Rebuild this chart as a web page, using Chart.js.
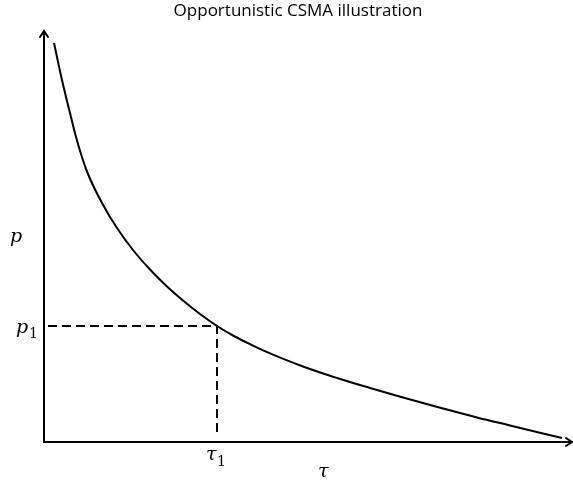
<!DOCTYPE html>
<html>
<head>
<meta charset="utf-8">
<title>Opportunistic CSMA illustration</title>
<script src="https://cdn.jsdelivr.net/npm/chart.js@4.4.1/dist/chart.umd.min.js"></script>
<style>
  html, body { margin: 0; padding: 0; background: #fff; }
  #wrap { width: 573px; height: 483px; }
</style>
</head>
<body>
<div id="wrap"><canvas id="chart"></canvas></div>
<script>
// curve (tau, p) in arbitrary units
const tauValues = [10, 18, 26, 34, 44, 58, 73, 89, 106, 123, 139, 156, 173, 189, 206, 226, 259, 293, 326, 359, 399, 433, 466, 499, 518];
const pValues   = [399, 362, 329, 298, 268, 239, 214, 192, 172.5, 155.5, 141.5, 128, 116, 106.5, 97.8, 88.6, 75.5, 64, 54, 44.5, 33.5, 24.5, 16.5, 8.5, 4];

// the marked operating point
const tau1 = 173;
const p1 = 116;

const tickLabels = { p: 'p', p1: 'p', tau: 'τ', tau1: 'τ', sub: '1' };

const curve = tauValues.map((t, i) => ({ x: t, y: pValues[i] }));
const guide = [{ x: 4, y: p1 }, { x: tau1, y: p1 }, { x: tau1, y: 5 }];

// axes with arrow heads + math labels
const axesPlugin = {
    id: 'arrowAxes',
    afterDatasetsDraw(chart) {
        const ctx = chart.ctx;
        const xs = chart.scales.x, ys = chart.scales.y;
        const x0 = xs.getPixelForValue(0), y0 = ys.getPixelForValue(0);
        const xEnd = xs.getPixelForValue(xs.max), yEnd = ys.getPixelForValue(ys.max);

        ctx.save();
        ctx.strokeStyle = '#000';
        ctx.lineWidth = 2;
        ctx.lineCap = 'square';
        ctx.beginPath();
        ctx.moveTo(x0, y0); ctx.lineTo(x0, yEnd + 1);
        ctx.moveTo(x0, y0); ctx.lineTo(xEnd - 1, y0);
        ctx.stroke();
        ctx.lineCap = 'round';
        ctx.beginPath();
        ctx.moveTo(x0 - 4, yEnd + 6); ctx.lineTo(x0, yEnd); ctx.lineTo(x0 + 4, yEnd + 6);
        ctx.moveTo(xEnd - 6, y0 - 4); ctx.lineTo(xEnd, y0); ctx.lineTo(xEnd - 6, y0 + 4);
        ctx.stroke();

        ctx.fillStyle = '#000';
        ctx.textBaseline = 'alphabetic';
        ctx.textAlign = 'left';
        const italic = 'italic 19px "DejaVu Serif", "Liberation Serif", serif';
        const small = '14px "DejaVu Serif", "Liberation Serif", serif';

        // p on the y axis
        ctx.font = italic;
        ctx.fillText(tickLabels.p, 10, ys.getPixelForValue(200));

        // p1
        const py = ys.getPixelForValue(p1);
        ctx.font = italic;
        ctx.fillText(tickLabels.p1, 16, py + 7);
        ctx.font = small;
        ctx.fillText(tickLabels.sub, 29, py + 12);

        // tau1
        const tx = xs.getPixelForValue(tau1);
        ctx.font = italic;
        ctx.fillText(tickLabels.tau1, tx - 11, y0 + 18);
        ctx.font = small;
        ctx.fillText(tickLabels.sub, tx, y0 + 24);

        // tau
        ctx.font = italic;
        ctx.fillText(tickLabels.tau, xs.getPixelForValue(274), y0 + 35);
        ctx.restore();
    }
};

new Chart(document.getElementById('chart'), {
    type: 'scatter',
    data: {
        datasets: [
            {
                data: curve,
                showLine: true,
                borderColor: '#000',
                borderWidth: 2,
                pointRadius: 0,
                tension: 0.4,
                clip: false
            },
            {
                data: guide,
                showLine: true,
                borderColor: '#000',
                borderWidth: 2,
                borderDash: [9, 5],
                pointRadius: 0,
                clip: false
            }
        ]
    },
    options: {
        responsive: true,
        maintainAspectRatio: false,
        animation: false,
        layout: { padding: { left: 24, right: 1, top: 0, bottom: 41 } },
        scales: {
            x: { type: 'linear', min: 0, max: 528, display: false },
            y: {
                type: 'linear', min: 0, max: 411,
                ticks: { display: false },
                grid: { display: false },
                border: { display: false },
                afterFit: (scale) => { scale.width = 20; }
            }
        },
        plugins: {
            legend: { display: false },
            tooltip: { enabled: false },
            title: {
                display: true,
                text: 'Opportunistic CSMA illustration',
                color: '#000',
                font: { family: '"Open Sans", sans-serif', size: 17, weight: 'normal' },
                padding: { top: 1.3, bottom: 9.3 }
            }
        }
    },
    plugins: [axesPlugin]
});
</script>
</body>
</html>
